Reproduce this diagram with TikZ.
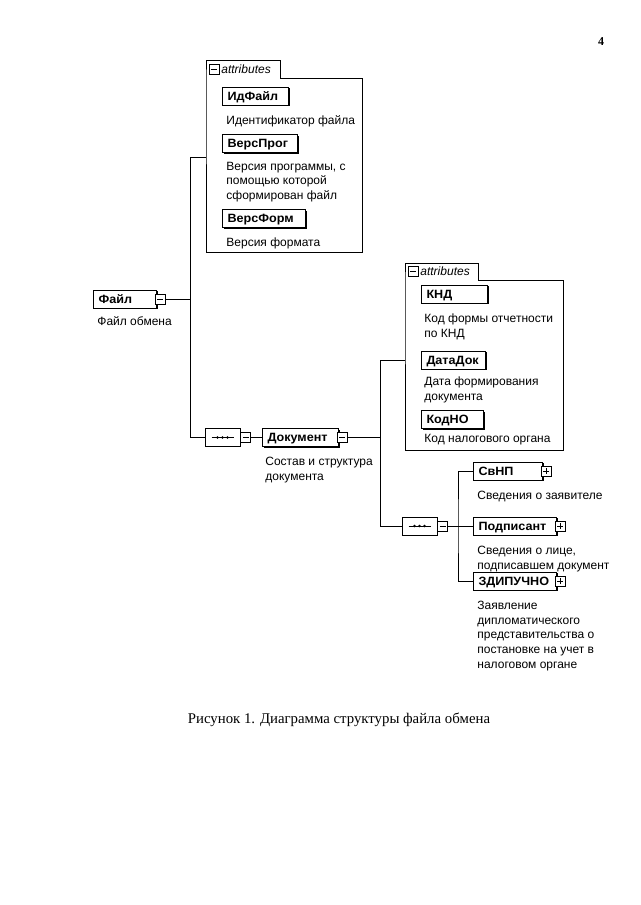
\documentclass[tikz,border=0pt]{standalone}
\usepackage{fontspec}
\setmainfont{Liberation Serif}
\setsansfont{Liberation Sans}
\newfontfamily\namefont[FakeStretch=1.05]{Liberation Sans}
\usetikzlibrary{positioning,shapes.misc,shadows}

\tikzset{
	elem/.style={draw, fill=white, line width=1pt, anchor=west, minimum height=18pt, text width=#1, text height=9pt, text depth=1pt, inner xsep=5pt, inner ysep=0pt, align=left, font=\namefont\bfseries\fontsize{12}{13}\selectfont, drop shadow={shadow xshift=1.2pt, shadow yshift=-1.2pt, opacity=1, fill=black}},
	desc/.style={anchor=north west, inner sep=0pt, align=left, font=\sffamily\fontsize{12}{14.8}\selectfont},
	sqbox/.style={draw, fill=white, line width=0.8pt, minimum size=10pt, inner sep=0pt, anchor=west},
	minus/.style={sqbox, path picture={\draw ([xshift=2pt]path picture bounding box.west) -- ([xshift=-2pt]path picture bounding box.east);}},
	plus/.style={sqbox, path picture={\draw ([xshift=2pt]path picture bounding box.west) -- ([xshift=-2pt]path picture bounding box.east); \draw ([yshift=2pt]path picture bounding box.south) -- ([yshift=-2pt]path picture bounding box.north);}},
	seqbox/.style={draw, fill=white, line width=0.8pt, chamfered rectangle, chamfered rectangle xsep=4pt, chamfered rectangle ysep=4pt, minimum width=35pt, minimum height=18pt, inner sep=0pt},
	abox/.style={anchor=north west, minimum width=#1, inner sep=0pt},
	atab/.style={anchor=west, inner sep=0pt, font=\sffamily\itshape\fontsize{12}{14}\selectfont}
}

\begin{document}
\begin{tikzpicture}[x=1pt,y=-1pt,line width=0.8pt]
	\useasboundingbox (0,0) rectangle (640,905);
	\node[font=\bfseries\fontsize{12}{14}\selectfont] (pg) at (601,42) {4};

	% attributes of Файл
	\node[abox=156pt, minimum height=174pt] (a1) at (206,78) {};
	\draw (a1.south west) -- (a1.north west) -- ++(0,-18) -- ++(74,0) -- ++(0,18) -- (a1.north east) -- (a1.south east) -- cycle;
	\node[minus] (a1m) at (208.5,69) {}; \node[atab] (a1t) at (221,69) {attributes};
	\node[elem=56pt] (idf) at (222,96) {ИдФайл}; \node[desc] (didf) at (226,115) {Идентификатор файла};
	\node[elem=65pt] (vpr) at (222,143.5) {ВерсПрог}; \node[desc] (dvpr) at (226,161.5) {Версия программы, с\\помощью которой\\сформирован файл};
	\node[elem=73pt] (vfm) at (222,218.5) {ВерсФорм}; \node[desc] (dvfm) at (226,237.5) {Версия формата};

	% root
	\node[elem=53pt] (fl) at (93,299) {Файл}; \node[minus] (flm) at ([xshift=-2pt]fl.east) {}; \node[desc] (dfl) at (97,316.5) {Файл обмена};
	\coordinate (a1in) at (206,157); \coordinate (j1) at (190,299);
	\draw (flm.east) -- (j1); \draw (a1in) -| (j1);

	% sequence 1 and Документ
	\node[seqbox] (s1) at (222.5,437.5) {}; \node[minus] (s1m) at (s1.east) {};
	\draw (s1.center) ++(-11,0) -- ++(22,0); \foreach \dx in {-5,0,5} \fill ([xshift=\dx pt]s1.center) circle (1.4pt);
	\draw (j1) |- (s1.west);
	\node[elem=66pt] (doc) at (262,437.5) {Документ}; \node[minus] (docm) at ([xshift=-2pt]doc.east) {};
	\node[desc] (ddoc) at (265,456.5) {Состав и структура\\документа};
	\draw (s1m.east) -- (doc.west);

	% attributes of Документ
	\node[abox=158pt, minimum height=170pt] (a2) at (405,280) {};
	\draw (a2.south west) -- (a2.north west) -- ++(0,-17) -- ++(73,0) -- ++(0,17) -- (a2.north east) -- (a2.south east) -- cycle;
	\node[minus] (a2m) at (407.5,271.5) {}; \node[atab] (a2t) at (420,271.5) {attributes};
	\node[elem=56pt] (knd) at (421,294) {КНД}; \node[desc] (dknd) at (424,313.5) {Код формы отчетности\\по КНД};
	\node[elem=54pt] (dd) at (421,360) {ДатаДок}; \node[desc] (ddd) at (424,376.5) {Дата формирования\\документа};
	\node[elem=52pt] (kno) at (421,419.5) {КодНО}; \node[desc] (dkno) at (424,433.5) {Код налогового органа};
	\coordinate (a2in) at (405,360); \coordinate (j2) at (380,437.5);
	\draw (docm.east) -- (j2); \draw (a2in) -| (j2);

	% sequence 2 and children
	\node[seqbox] (s2) at (419.5,526) {}; \node[minus] (s2m) at (s2.east) {};
	\draw (s2.center) ++(-11,0) -- ++(22,0); \foreach \dx in {-5,0,5} \fill ([xshift=\dx pt]s2.center) circle (1.4pt);
	\draw (j2) |- (s2.west);
	\node[elem=59pt] (svnp) at (473,471) {СвНП}; \node[plus] (svnpp) at ([xshift=-2pt]svnp.east) {}; \node[desc] (dsvnp) at (477,490.5) {Сведения о заявителе};
	\node[elem=73pt] (podp) at (473,526) {Подписант}; \node[plus] (podpp) at ([xshift=-2pt]podp.east) {}; \node[desc] (dpodp) at (477,545.5) {Сведения о лице,\\подписавшем документ};
	\node[elem=73pt] (zdip) at (473,581) {ЗДИПУЧНО}; \node[plus] (zdipp) at ([xshift=-2pt]zdip.east) {}; \node[desc] (dzdip) at (477,600.5) {Заявление\\дипломатического\\представительства о\\постановке на учет в\\налоговом органе};
	\coordinate (j3) at (458,526);
	\draw (s2m.east) -- (j3); \draw (svnp.west) -| (j3) |- (zdip.west); \draw (j3) -- (podp.west);

	\node[font=\fontsize{14.8}{18}\selectfont] (cap) at (339,720) {Рисунок 1. Диаграмма структуры файла обмена};
\end{tikzpicture}
\end{document}
